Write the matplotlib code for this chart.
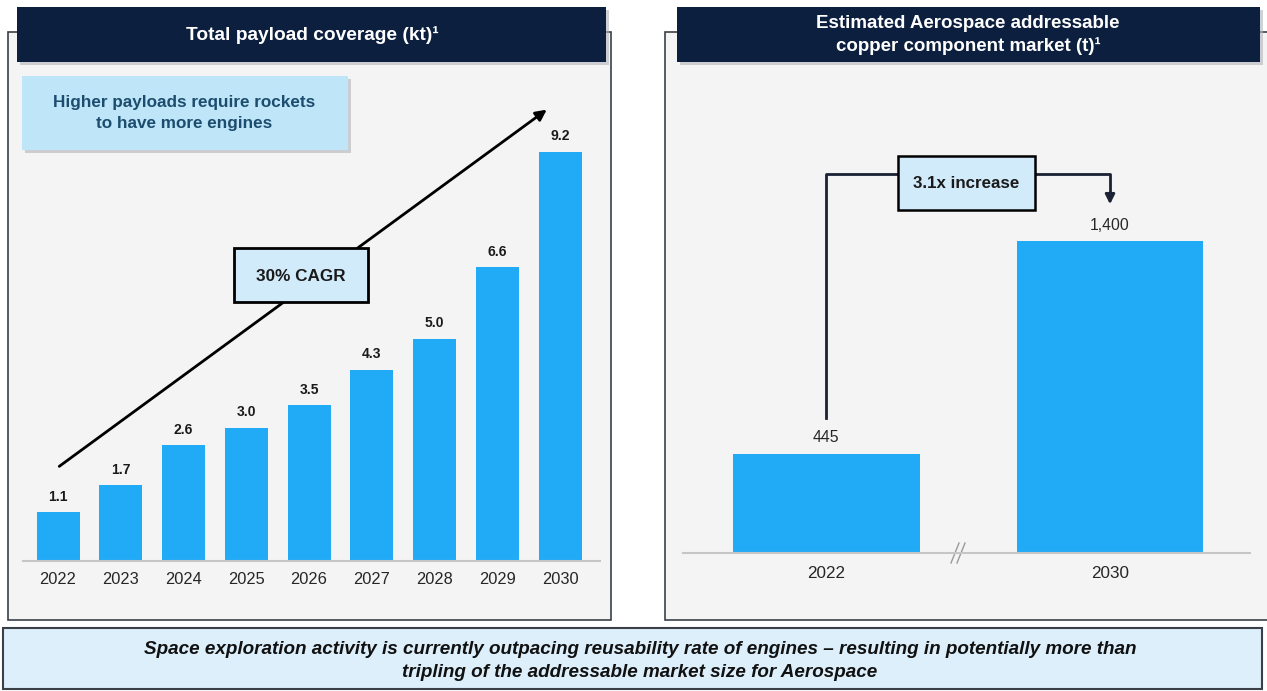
import matplotlib.pyplot as plt
from matplotlib.patches import Rectangle, FancyArrowPatch

plt.rcParams['font.family'] = ['Liberation Sans', 'DejaVu Sans']

# data
years = ['2022', '2023', '2024', '2025', '2026', '2027', '2028', '2029', '2030']
payload = [1.1, 1.7, 2.6, 3.0, 3.5, 4.3, 5.0, 6.6, 9.2]
payload_labels = ['1.1', '1.7', '2.6', '3.0', '3.5', '4.3', '5.0', '6.6', '9.2']
market_years = ['2022', '2030']
market = [445, 1400]
market_labels = ['445', '1,400']

W, H = 1267, 691
NAVY = '#0c1f3f'
BLUE = '#21aaf6'
PANEL = '#f4f4f4'
EDGE = '#3b3f48'

fig = plt.figure(figsize=(W / 100, H / 100), dpi=100)
fig.patch.set_facecolor('white')

# pixel-space canvas for boxes and text
bg = fig.add_axes([0, 0, 1, 1], zorder=0)
bg.set_xlim(0, W)
bg.set_ylim(H, 0)
bg.axis('off')


def box(x0, y0, x1, y1, fc, ec='none', lw=0, shadow=False, z=1):
    if shadow:
        bg.add_patch(Rectangle((x0 + 3, y0 + 3), x1 - x0, y1 - y0, fc='#b0b4ba',
                               ec='none', zorder=z - 0.5, alpha=0.6))
    bg.add_patch(Rectangle((x0, y0), x1 - x0, y1 - y0, fc=fc, ec=ec, lw=lw, zorder=z))


# panels
box(8, 32, 611, 620, PANEL, EDGE, 1.2)
box(665, 32, 1275, 620, PANEL, EDGE, 1.2)
box(17, 7, 606, 62, NAVY, shadow=True, z=2)
box(677, 7, 1260, 62, NAVY, shadow=True, z=2)
bg.text(312, 35, 'Total payload coverage (kt)\u00b9', color='white', fontsize=13.8,
        fontweight='bold', ha='center', va='center', zorder=3)
bg.text(968, 35, 'Estimated Aerospace addressable\ncopper component market (t)\u00b9',
        color='white', fontsize=13.5, fontweight='bold', ha='center', va='center',
        linespacing=1.4, zorder=3)

# callout box left
box(22, 76, 348, 150, '#bfe5f9', shadow=True, z=2)
bg.text(184, 113, 'Higher payloads require rockets\nto have more engines', color='#1d4d6e',
        fontsize=12.3, fontweight='bold', ha='center', va='center', linespacing=1.5, zorder=3)

# bottom banner
box(3, 628, 1262, 689, '#dceffb', EDGE, 1.5, z=2)
bg.text(640, 661, 'Space exploration activity is currently outpacing reusability rate of engines \u2013 '
        'resulting in potentially more than\ntripling of the addressable market size for Aerospace',
        fontsize=13.6, fontweight='bold', style='italic', ha='center', va='center',
        color='#111111', linespacing=1.4, zorder=3)


def px_axes(x0, x1, ytop, ybot):
    return fig.add_axes([x0 / W, 1 - ybot / H, (x1 - x0) / W, (ybot - ytop) / H], zorder=1)


# left bar chart
ax1 = px_axes(23, 600, 100, 561)
ax1.patch.set_alpha(0)
xs = list(range(len(years)))
bars = ax1.bar(xs, payload, width=0.685, color=BLUE)
ax1.set_xlim(-0.558, 8.637)
ax1.set_ylim(0, 10.36)
for b, lab in zip(bars, payload_labels):
    ax1.annotate(lab, (b.get_x() + b.get_width() / 2, b.get_height()), xytext=(0, 6),
                 textcoords='offset points', ha='center', va='bottom', fontsize=10,
                 fontweight='bold', color='#1a1a1a')
ax1.set_xticks(xs)
ax1.set_xticklabels(years, fontsize=11.8, color='#262626')
ax1.tick_params(length=0, pad=8)
ax1.set_yticks([])
for s in ['top', 'right', 'left']:
    ax1.spines[s].set_visible(False)
ax1.spines['bottom'].set_color('#c6c6c6')
ax1.spines['bottom'].set_linewidth(1.5)

# CAGR arrow and box
bg.add_patch(FancyArrowPatch((57, 468), (549, 108), arrowstyle='-|>', mutation_scale=16,
                             color='black', lw=2, zorder=4))
box(234, 248, 368, 302, '#d2ebfb', 'black', 2, z=5)
bg.text(301, 276, '30% CAGR', fontsize=12.3, fontweight='bold', ha='center', va='center',
        color='#1a1a1a', zorder=6)

# right bar chart
ax2 = px_axes(683, 1250, 160, 553)
ax2.patch.set_alpha(0)
mx = [0, 1]
bars2 = ax2.bar(mx, market, width=0.658, color=BLUE)
ax2.set_xlim(-0.504, 1.493)
ax2.set_ylim(0, 1763)
for b, lab in zip(bars2, market_labels):
    ax2.annotate(lab, (b.get_x() + b.get_width() / 2, b.get_height()), xytext=(0, 6),
                 textcoords='offset points', ha='center', va='bottom', fontsize=11.3,
                 color='#262626')
ax2.set_xticks(mx)
ax2.set_xticklabels(market_years, fontsize=12.3, color='#262626')
ax2.tick_params(length=0, pad=9)
ax2.set_yticks([])
for s in ['top', 'right', 'left']:
    ax2.spines[s].set_visible(False)
ax2.spines['bottom'].set_color('#c6c6c6')
ax2.spines['bottom'].set_linewidth(1.5)

# axis break marks
for dx in (-3, 3):
    bg.plot([958 + dx - 4, 958 + dx + 4], [563, 543], color='#9a9a9a', lw=1, zorder=3)

# increase bracket
bg.plot([826, 826, 1110, 1110], [418, 174, 174, 195], color='#1a2233', lw=2, zorder=3)
bg.add_patch(FancyArrowPatch((1110, 190), (1110, 207), arrowstyle='-|>', mutation_scale=14,
                             color='#1a2233', lw=2, zorder=3))
box(898, 156, 1035, 210, '#d2ebfb', 'black', 1.8, z=5)
bg.text(966, 183, '3.1x increase', fontsize=12.2, fontweight='bold', ha='center', va='center',
        color='#1a1a1a', zorder=6)

fig.savefig('out.png', dpi=100)
